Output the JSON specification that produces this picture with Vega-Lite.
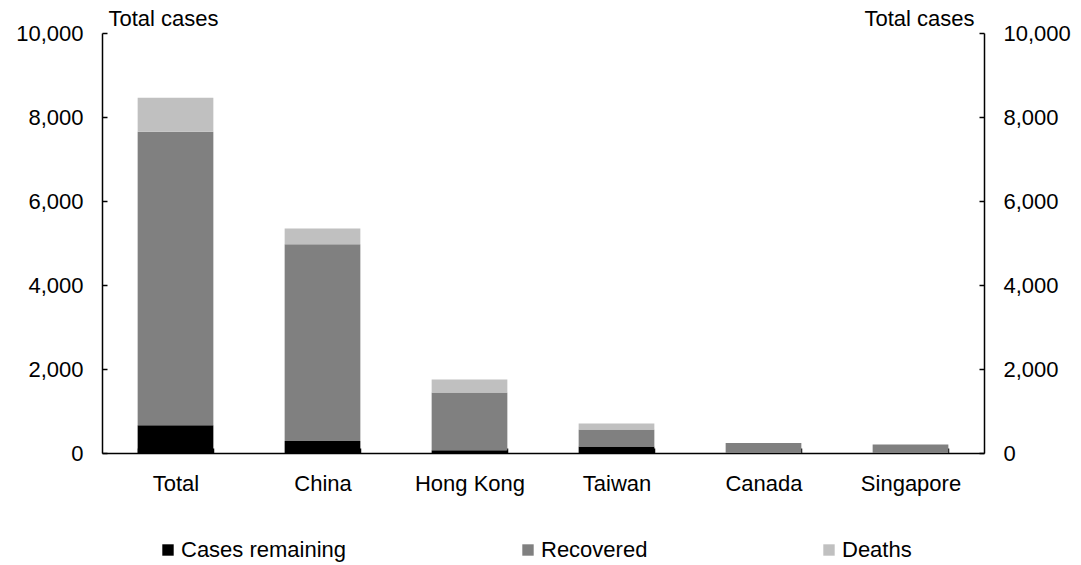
{
  "$schema": "https://vega.github.io/schema/vega-lite/v6.json",
  "autosize": "none",
  "width": 882,
  "height": 420,
  "padding": {"left": 102, "top": 33, "right": 97, "bottom": 112},
  "background": "white",
  "config": {
    "view": {"stroke": null},
    "font": "Liberation Sans",
    "axis": {
      "labelFont": "Liberation Sans",
      "labelFontSize": 22,
      "labelColor": "black",
      "titleFont": "Liberation Sans",
      "titleFontSize": 22,
      "titleFontWeight": "normal",
      "titleColor": "black",
      "domainColor": "black",
      "domainWidth": 1.5,
      "tickColor": "black",
      "tickWidth": 1.5,
      "grid": false
    },
    "legend": {
      "labelFont": "Liberation Sans",
      "labelFontSize": 22,
      "labelColor": "black",
      "labelLimit": 400
    }
  },
  "data": {
    "values": [
      {"region": "Total", "status": "Cases remaining", "k": 1, "cases": 660},
      {"region": "Total", "status": "Recovered", "k": 2, "cases": 6988},
      {"region": "Total", "status": "Deaths", "k": 3, "cases": 811},
      {"region": "China", "status": "Cases remaining", "k": 1, "cases": 286},
      {"region": "China", "status": "Recovered", "k": 2, "cases": 4687},
      {"region": "China", "status": "Deaths", "k": 3, "cases": 374},
      {"region": "Hong Kong", "status": "Cases remaining", "k": 1, "cases": 64},
      {"region": "Hong Kong", "status": "Recovered", "k": 2, "cases": 1375},
      {"region": "Hong Kong", "status": "Deaths", "k": 3, "cases": 310},
      {"region": "Taiwan", "status": "Cases remaining", "k": 1, "cases": 152},
      {"region": "Taiwan", "status": "Recovered", "k": 2, "cases": 405},
      {"region": "Taiwan", "status": "Deaths", "k": 3, "cases": 143},
      {"region": "Canada", "status": "Cases remaining", "k": 1, "cases": 0},
      {"region": "Canada", "status": "Recovered", "k": 2, "cases": 238},
      {"region": "Canada", "status": "Deaths", "k": 3, "cases": 0},
      {"region": "Singapore", "status": "Cases remaining", "k": 1, "cases": 0},
      {"region": "Singapore", "status": "Recovered", "k": 2, "cases": 200},
      {"region": "Singapore", "status": "Deaths", "k": 3, "cases": 0}
    ]
  },
  "encoding": {
    "x": {
      "field": "region",
      "type": "nominal",
      "sort": ["Total", "China", "Hong Kong", "Taiwan", "Canada", "Singapore"],
      "scale": {"paddingInner": 0.485, "paddingOuter": 0.2425},
      "axis": {
        "title": null,
        "labelAngle": 0,
        "tickBand": "extent",
        "tickSize": -5,
        "labelPadding": 42,
        "labelBaseline": "alphabetic"
      }
    },
    "color": {
      "field": "status",
      "type": "nominal",
      "scale": {
        "domain": ["Cases remaining", "Recovered", "Deaths"],
        "range": ["#000000", "#808080", "#c0c0c0"]
      },
      "legend": {
        "title": null,
        "orient": "none",
        "direction": "horizontal",
        "legendX": 55,
        "legendY": 506,
        "symbolType": "square",
        "symbolSize": 130,
        "symbolStrokeWidth": 0,
        "labelOffset": 2,
        "columnPadding": 170,
        "padding": 0
      }
    },
    "order": {"field": "k", "type": "quantitative"}
  },
  "layer": [
    {
      "mark": {"type": "bar"},
      "encoding": {
        "y": {
          "field": "cases",
          "type": "quantitative",
          "stack": "zero",
          "scale": {"domain": [0, 10000]},
          "axis": {
            "orient": "left",
            "values": [0, 2000, 4000, 6000, 8000, 10000],
            "format": ",d",
            "tickSize": -5,
            "labelPadding": 24,
            "title": "Total cases",
            "titleAngle": 0,
            "titleAlign": "left",
            "titleBaseline": "alphabetic",
            "titleX": 6,
            "titleY": -8
          }
        }
      }
    },
    {
      "mark": {"type": "bar", "opacity": 0},
      "encoding": {
        "y": {
          "field": "cases",
          "type": "quantitative",
          "stack": "zero",
          "scale": {"domain": [0, 10000]},
          "axis": {
            "orient": "right",
            "values": [0, 2000, 4000, 6000, 8000, 10000],
            "format": ",d",
            "tickSize": -5,
            "labelPadding": 24,
            "title": "Total cases",
            "titleAngle": 0,
            "titleAlign": "right",
            "titleBaseline": "alphabetic",
            "titleX": -10,
            "titleY": -8
          }
        }
      }
    }
  ],
  "resolve": {"scale": {"y": "independent"}}
}
